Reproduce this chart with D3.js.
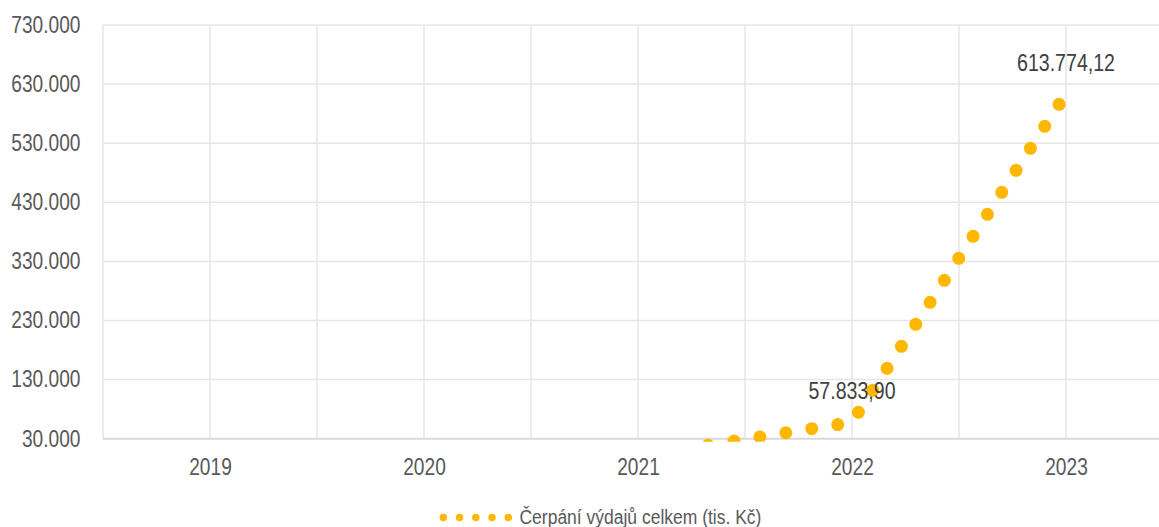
<!DOCTYPE html>
<html>
<head>
<meta charset="utf-8">
<script src="https://cdn.jsdelivr.net/npm/d3@7"></script>
<style>
  html, body { margin: 0; padding: 0; background: #fff; }
  svg { display: block; }
  text { font-family: "Liberation Sans", Arial, sans-serif; }
</style>
</head>
<body>
<svg id="chart" width="1159" height="527"></svg>
<script>
// ---- data ----
const categories = ["2019", "2020", "2021", "2022", "2023"];
const seriesValues = [0, 0, 0, 57833.90, 613774.12];
const showLabel = [false, false, false, true, true];
const yTicks = [30000, 130000, 230000, 330000, 430000, 530000, 630000, 730000];
const seriesName = "Čerpání výdajů celkem (tis. Kč)";

// ---- setup ----
const plot = { left: 103, right: 1173, top: 25, bottom: 438.7 };
const NARROW = 0.833; // emulate a narrow typeface
const svg = d3.select("#chart");
const locale = d3.formatLocale({ decimal: ",", thousands: ".", grouping: [3], currency: ["", ""] });
const fmtTick = locale.format(",.0f");
const fmtLabel = locale.format(",.2f");

const x = d3.scalePoint().domain(categories).range([plot.left, plot.right]).padding(0.5);
const y = d3.scaleLinear().domain([yTicks[0], yTicks[yTicks.length - 1]]).range([plot.bottom, plot.top]);
const step = x.step();

// clip (Excel lets the series bleed a little past the axis line)
svg.append("defs").append("clipPath").attr("id", "plotClip")
  .append("rect").attr("x", plot.left).attr("y", plot.top)
  .attr("width", plot.right - plot.left).attr("height", plot.bottom - plot.top + 3);

// vertical gridlines (category centres and boundaries)
const vLines = [];
categories.forEach(c => { vLines.push(x(c) - step / 2); vLines.push(x(c)); });
vLines.push(x(categories[categories.length - 1]) + step / 2);
svg.append("g").selectAll("line").data(vLines).join("line")
  .attr("x1", d => d).attr("x2", d => d)
  .attr("y1", plot.top).attr("y2", plot.bottom)
  .attr("stroke", "#E6E6E6").attr("stroke-width", 1.5);

// horizontal gridlines
svg.append("g").selectAll("line").data(yTicks.slice(1)).join("line")
  .attr("x1", plot.left).attr("x2", plot.right)
  .attr("y1", d => y(d)).attr("y2", d => y(d))
  .attr("stroke", "#E6E6E6").attr("stroke-width", 1.5);

// y axis labels
const yAxis = d3.axisLeft(y).tickValues(yTicks).tickFormat(fmtTick).tickSize(0).tickPadding(0);
const gy = svg.append("g").attr("transform", `translate(80.5,0)`).call(yAxis);
gy.select(".domain").remove();
gy.selectAll("text").attr("font-size", 23).attr("fill", "#595959")
  .attr("font-family", '"Liberation Sans", Arial, sans-serif')
  .attr("transform", `scale(${NARROW},1)`);

// x axis
const xAxis = d3.axisBottom(x).tickSize(0).tickPadding(0);
const gx = svg.append("g").attr("transform", `translate(0,${plot.bottom})`).call(xAxis);
gx.select(".domain").attr("stroke", "#D9D9D9").attr("stroke-width", 2)
  .attr("d", `M${plot.left},0H${plot.right}`);
gx.selectAll("text").attr("font-size", 23).attr("fill", "#595959")
  .attr("dy", null).attr("y", 36.5)
  .attr("font-family", '"Liberation Sans", Arial, sans-serif')
  .attr("transform", `scale(${NARROW},1)`);

// series line (round dots)
const pts = categories.map((c, i) => ({ c, v: seriesValues[i], lab: showLabel[i] }));
const line = d3.line().x(d => x(d.c)).y(d => y(d.v));
svg.append("path").datum(pts)
  .attr("clip-path", "url(#plotClip)")
  .attr("d", line)
  .attr("fill", "none").attr("stroke", "#FFB700")
  .attr("stroke-width", 13).attr("stroke-linecap", "round")
  .attr("stroke-dasharray", "0 26.26");

// data labels
svg.append("g").selectAll("text").data(pts.filter(d => d.lab)).join("text")
  .attr("transform", d => `translate(${x(d.c)},${y(d.v) - 23}) scale(${NARROW},1)`)
  .attr("text-anchor", "middle").attr("font-size", 23.5).attr("fill", "#404040")
  .text(d => fmtLabel(d.v));

// legend
const lg = svg.append("g");
lg.append("line").attr("x1", 443.3).attr("x2", 510).attr("y1", 517.5).attr("y2", 517.5)
  .attr("stroke", "#FFB700").attr("stroke-width", 7.5).attr("stroke-linecap", "round")
  .attr("stroke-dasharray", "0 16.25");
lg.append("text").attr("transform", `translate(519.5,523.5) scale(${NARROW},1)`)
  .attr("font-size", 21).attr("fill", "#595959")
  .text(seriesName);
</script>
</body>
</html>
